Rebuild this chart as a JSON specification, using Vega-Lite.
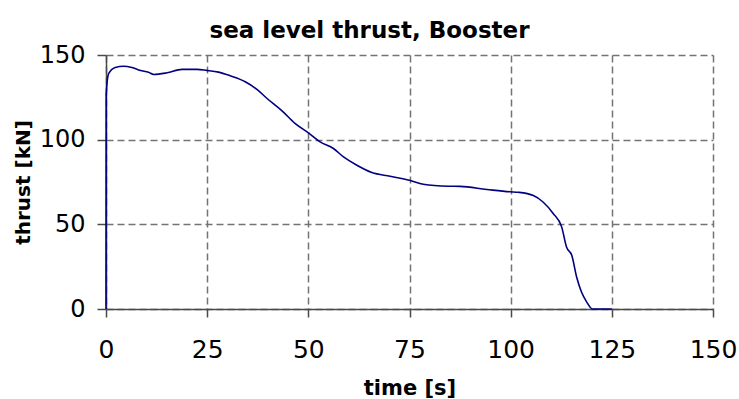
{
  "$schema": "https://vega.github.io/schema/vega-lite/v6.json",
  "autosize": {"type": "none"},
  "width": 607,
  "height": 254,
  "padding": {"left": 106, "top": 55, "right": 26, "bottom": 90},
  "background": "white",
  "title": {
    "text": "sea level thrust, Booster",
    "font": "DejaVu Sans",
    "fontSize": 23,
    "fontWeight": "bold",
    "color": "#000000",
    "anchor": "middle",
    "frame": "group",
    "dx": -40,
    "dy": 28,
    "baseline": "alphabetic",
    "offset": 10
  },
  "config": {
    "view": {"stroke": null},
    "axis": {
      "labelFont": "DejaVu Sans",
      "titleFont": "DejaVu Sans",
      "labelColor": "#000000",
      "titleColor": "#000000",
      "titleFontWeight": "bold",
      "domainColor": "#4a4a4a",
      "domainWidth": 1.5,
      "tickColor": "#4a4a4a",
      "tickWidth": 1.5,
      "gridColor": "#737373",
      "gridWidth": 1.5,
      "gridDash": [7, 4],
      "gridOpacity": 1
    }
  },
  "data": {
    "values": [
      {"t": 0, "thrust": 0},
      {"t": 0.05, "thrust": 127},
      {"t": 0.65, "thrust": 139},
      {"t": 2.3, "thrust": 142.6},
      {"t": 4.35, "thrust": 143.4},
      {"t": 6.4, "thrust": 142.6},
      {"t": 8.5, "thrust": 140.8},
      {"t": 10.5, "thrust": 139.8},
      {"t": 11.8, "thrust": 138.5},
      {"t": 15.1, "thrust": 139.5},
      {"t": 18.8, "thrust": 141.5},
      {"t": 22.5, "thrust": 141.5},
      {"t": 24.9, "thrust": 140.9},
      {"t": 27.8, "thrust": 139.9},
      {"t": 30.7, "thrust": 137.7},
      {"t": 34.4, "thrust": 134.2},
      {"t": 37.3, "thrust": 129.7},
      {"t": 39.8, "thrust": 124.3},
      {"t": 43.5, "thrust": 117.0},
      {"t": 46.7, "thrust": 109.6},
      {"t": 50.2, "thrust": 103.7},
      {"t": 52.9, "thrust": 98.7},
      {"t": 56.2, "thrust": 94.8},
      {"t": 58.7, "thrust": 89.8},
      {"t": 62.0, "thrust": 84.9},
      {"t": 65.7, "thrust": 80.6},
      {"t": 70.2, "thrust": 78.4},
      {"t": 75.0, "thrust": 76.0},
      {"t": 78.4, "thrust": 73.7},
      {"t": 84.6, "thrust": 72.5},
      {"t": 87.5, "thrust": 72.4},
      {"t": 94.1, "thrust": 70.6},
      {"t": 99.8, "thrust": 69.2},
      {"t": 101.9, "thrust": 68.9},
      {"t": 105.6, "thrust": 67.0},
      {"t": 108.0, "thrust": 63.2},
      {"t": 110.5, "thrust": 56.4},
      {"t": 112.6, "thrust": 48.5},
      {"t": 113.8, "thrust": 36.6},
      {"t": 115.1, "thrust": 31.7},
      {"t": 116.3, "thrust": 18.9},
      {"t": 117.5, "thrust": 10.0},
      {"t": 118.8, "thrust": 4.1},
      {"t": 120.2, "thrust": 0},
      {"t": 125, "thrust": 0}
    ]
  },
  "mark": {"type": "line", "color": "#000080", "strokeWidth": 1.6, "interpolate": "monotone"},
  "encoding": {
    "x": {
      "field": "t",
      "type": "quantitative",
      "scale": {"domain": [0, 150], "nice": false, "zero": false},
      "axis": {
        "values": [0, 25, 50, 75, 100, 125, 150],
        "title": "time [s]",
        "titleFontSize": 21,
        "titleX": 303.5,
        "titleY": 85,
        "titleBaseline": "alphabetic",
        "labelFontSize": 25,
        "tickSize": 8,
        "labelPadding": 20,
        "labelFlush": false
      }
    },
    "y": {
      "field": "thrust",
      "type": "quantitative",
      "scale": {"domain": [0, 150], "nice": false},
      "axis": {
        "values": [0, 50, 100, 150],
        "title": "thrust [kN]",
        "titleFontSize": 20,
        "titleX": -83,
        "titleY": 127,
        "titleBaseline": "middle",
        "titleAngle": -90,
        "titleAlign": "center",
        "labelFontSize": 24,
        "tickSize": 9,
        "labelPadding": 12,
        "labelFlush": false
      }
    }
  }
}
